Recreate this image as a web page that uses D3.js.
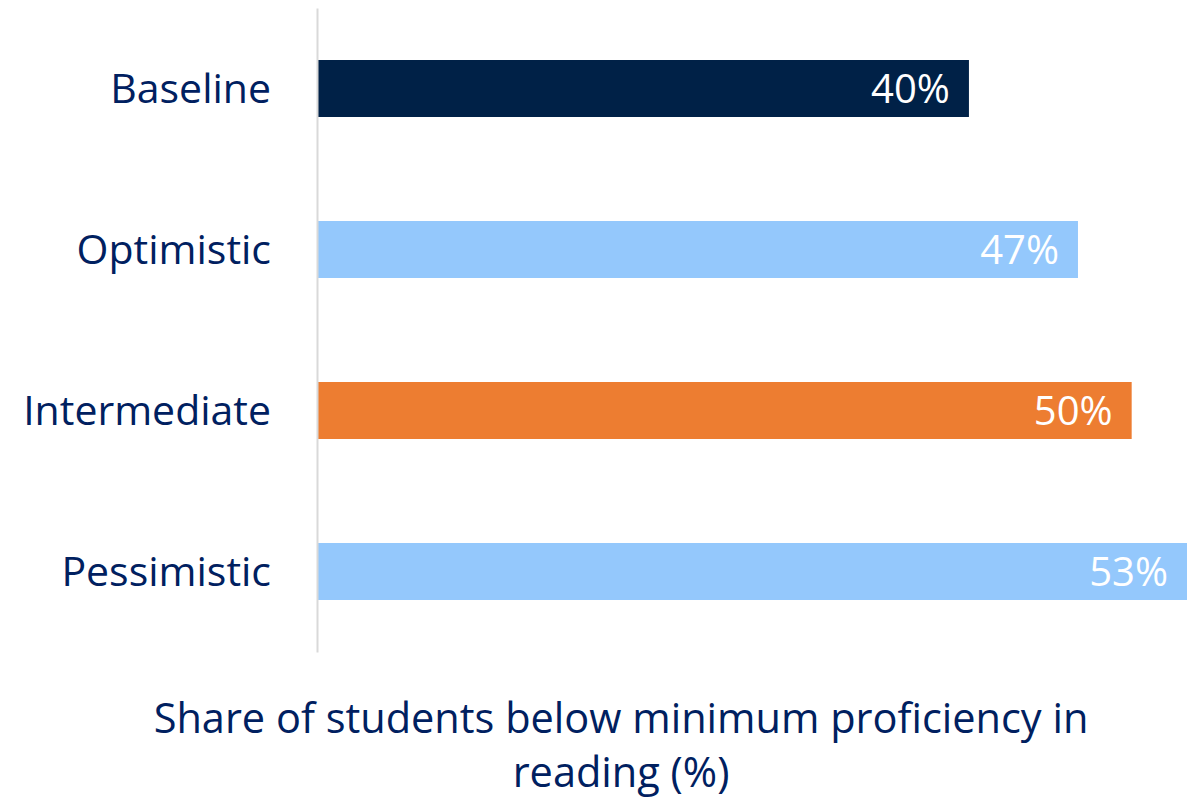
<!DOCTYPE html>
<html>
<head>
<meta charset="utf-8">
<script src="https://cdn.jsdelivr.net/npm/d3@7"></script>
<style>
  body { margin: 0; background: #fff; }
  text { font-family: "Open Sans", sans-serif; }
</style>
</head>
<body>
<script>
// data
var scenarios = ["Baseline", "Optimistic", "Intermediate", "Pessimistic"];
var shares = [40.0, 46.7, 50.0, 53.4];
var valueLabels = ["40%", "47%", "50%", "53%"];
var barColors = ["#002147", "#94c8fc", "#ed7d31", "#94c8fc"];
var axisTitle = ["Share of students below minimum proficiency in", "reading (%)"];

var width = 1199, height = 799;
var navy = "#002060";

var svg = d3.select("body").append("svg")
    .attr("width", width)
    .attr("height", height);

var x = d3.scaleLinear()
    .domain([0, d3.max(shares)])
    .range([318, 1187]);

var y = d3.scaleBand()
    .domain(scenarios)
    .range([8, 652])
    .paddingInner(0.646)
    .paddingOuter(0.323);

// bars
svg.selectAll("rect.bar")
  .data(scenarios)
  .enter()
  .append("rect")
  .attr("class", "bar")
  .attr("x", x(0))
  .attr("y", function(d) { return y(d); })
  .attr("width", function(d, i) { return x(shares[i]) - x(0); })
  .attr("height", y.bandwidth())
  .style("fill", function(d, i) { return barColors[i]; });

// value labels inside bar ends
svg.selectAll("text.val")
  .data(scenarios)
  .enter()
  .append("text")
  .attr("class", "val")
  .attr("x", function(d, i) { return x(shares[i]) - 19; })
  .attr("y", function(d) { return y(d) + y.bandwidth() / 2; })
  .attr("dy", "0.36em")
  .attr("text-anchor", "end")
  .style("font-size", "40px")
  .style("fill", "#fff")
  .text(function(d, i) { return valueLabels[i]; });

// category axis
var yAxis = svg.append("g")
    .attr("transform", "translate(" + (x(0) - 1) + ",0)")
    .call(d3.axisLeft(y).tickSize(0).tickPadding(46));
yAxis.select(".domain")
    .attr("stroke", "#d9d9d9")
    .attr("stroke-width", 2);
yAxis.selectAll(".tick text")
    .attr("dy", "0.36em")
    .style("font-family", "'Open Sans', sans-serif")
    .style("font-size", "41px")
    .style("fill", navy);

// axis title
svg.append("g").selectAll("text")
  .data(axisTitle)
  .enter()
  .append("text")
  .attr("x", 621)
  .attr("y", function(d, i) { return 733 + i * 54; })
  .attr("text-anchor", "middle")
  .style("font-size", "41.5px")
  .style("fill", navy)
  .text(function(d) { return d; });
</script>
</body>
</html>
